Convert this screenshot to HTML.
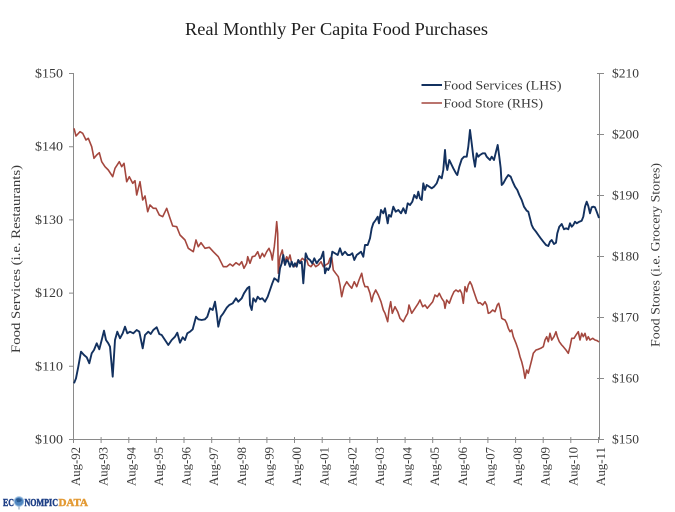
<!DOCTYPE html>
<html><head><meta charset="utf-8"><style>
html,body{margin:0;padding:0;background:#fff;}
svg{display:block;}
text{font-family:"Liberation Serif",serif;fill:#3a3a3a;}
</style></head><body>
<svg width="675" height="512" viewBox="0 0 675 512" xmlns="http://www.w3.org/2000/svg">
<rect width="675" height="512" fill="#fff"/>
<text x="336.5" y="35" font-size="17.5" text-anchor="middle" textLength="303" lengthAdjust="spacingAndGlyphs" style="fill:#1e1e1e">Real Monthly Per Capita Food Purchases</text>

<g stroke="#8a8a8a" stroke-width="1" fill="none">
<line x1="73.5" y1="73" x2="73.5" y2="439.5"/>
<line x1="599.5" y1="73" x2="599.5" y2="439.5"/>
<line x1="73.5" y1="439.5" x2="599.5" y2="439.5"/>
<path d="M69 73.5H74 M69 146.7H74 M69 219.9H74 M69 293.1H74 M69 366.3H74 M69 439.5H74"/>
<path d="M597 73.5H604 M597 134.5H604 M597 195.5H604 M597 256.5H604 M597 317.5H604 M597 378.5H604 M597 439.5H604"/>
<path d="M73.5 437V443 M101.1 437V443 M128.8 437V443 M156.4 437V443 M184 437V443 M211.7 437V443 M239.3 437V443 M266.9 437V443 M294.5 437V443 M322.2 437V443 M349.8 437V443 M377.4 437V443 M405.1 437V443 M432.7 437V443 M460.3 437V443 M487.9 437V443 M515.6 437V443 M543.2 437V443 M570.8 437V443 M598.5 437V443"/>
</g>

<g font-size="13" text-anchor="end">
<text x="63" y="77.5" textLength="28" lengthAdjust="spacingAndGlyphs">$150</text>
<text x="63" y="150.7" textLength="28" lengthAdjust="spacingAndGlyphs">$140</text>
<text x="63" y="223.9" textLength="28" lengthAdjust="spacingAndGlyphs">$130</text>
<text x="63" y="297.1" textLength="28" lengthAdjust="spacingAndGlyphs">$120</text>
<text x="63" y="370.3" textLength="28" lengthAdjust="spacingAndGlyphs">$110</text>
<text x="63" y="443.5" textLength="28" lengthAdjust="spacingAndGlyphs">$100</text>
</g>
<g font-size="13">
<text x="612" y="77.5" textLength="27" lengthAdjust="spacingAndGlyphs">$210</text>
<text x="612" y="138.5" textLength="27" lengthAdjust="spacingAndGlyphs">$200</text>
<text x="612" y="199.5" textLength="27" lengthAdjust="spacingAndGlyphs">$190</text>
<text x="612" y="260.5" textLength="27" lengthAdjust="spacingAndGlyphs">$180</text>
<text x="612" y="321.5" textLength="27" lengthAdjust="spacingAndGlyphs">$170</text>
<text x="612" y="382.5" textLength="27" lengthAdjust="spacingAndGlyphs">$160</text>
<text x="612" y="443.5" textLength="27" lengthAdjust="spacingAndGlyphs">$150</text>
</g>

<text transform="translate(20,259) rotate(-90)" font-size="13" text-anchor="middle" textLength="188" lengthAdjust="spacingAndGlyphs">Food Services (i.e. Restaurants)</text>
<text transform="translate(659.5,255) rotate(-90)" font-size="13" text-anchor="middle" textLength="184" lengthAdjust="spacingAndGlyphs">Food Stores (i.e. Grocery Stores)</text>

<g font-size="13" text-anchor="end">
<text transform="translate(80,447) rotate(-90)" textLength="39" lengthAdjust="spacingAndGlyphs">Aug-92</text>
<text transform="translate(107.6,447) rotate(-90)" textLength="39" lengthAdjust="spacingAndGlyphs">Aug-93</text>
<text transform="translate(135.3,447) rotate(-90)" textLength="39" lengthAdjust="spacingAndGlyphs">Aug-94</text>
<text transform="translate(162.9,447) rotate(-90)" textLength="39" lengthAdjust="spacingAndGlyphs">Aug-95</text>
<text transform="translate(190.5,447) rotate(-90)" textLength="39" lengthAdjust="spacingAndGlyphs">Aug-96</text>
<text transform="translate(218.2,447) rotate(-90)" textLength="39" lengthAdjust="spacingAndGlyphs">Aug-97</text>
<text transform="translate(245.8,447) rotate(-90)" textLength="39" lengthAdjust="spacingAndGlyphs">Aug-98</text>
<text transform="translate(273.4,447) rotate(-90)" textLength="39" lengthAdjust="spacingAndGlyphs">Aug-99</text>
<text transform="translate(301,447) rotate(-90)" textLength="39" lengthAdjust="spacingAndGlyphs">Aug-00</text>
<text transform="translate(328.7,447) rotate(-90)" textLength="39" lengthAdjust="spacingAndGlyphs">Aug-01</text>
<text transform="translate(356.3,447) rotate(-90)" textLength="39" lengthAdjust="spacingAndGlyphs">Aug-02</text>
<text transform="translate(383.9,447) rotate(-90)" textLength="39" lengthAdjust="spacingAndGlyphs">Aug-03</text>
<text transform="translate(411.6,447) rotate(-90)" textLength="39" lengthAdjust="spacingAndGlyphs">Aug-04</text>
<text transform="translate(439.2,447) rotate(-90)" textLength="39" lengthAdjust="spacingAndGlyphs">Aug-05</text>
<text transform="translate(466.8,447) rotate(-90)" textLength="39" lengthAdjust="spacingAndGlyphs">Aug-06</text>
<text transform="translate(494.4,447) rotate(-90)" textLength="39" lengthAdjust="spacingAndGlyphs">Aug-07</text>
<text transform="translate(522.1,447) rotate(-90)" textLength="39" lengthAdjust="spacingAndGlyphs">Aug-08</text>
<text transform="translate(549.7,447) rotate(-90)" textLength="39" lengthAdjust="spacingAndGlyphs">Aug-09</text>
<text transform="translate(577.3,447) rotate(-90)" textLength="39" lengthAdjust="spacingAndGlyphs">Aug-10</text>
<text transform="translate(605,447) rotate(-90)" textLength="39" lengthAdjust="spacingAndGlyphs">Aug-11</text>
</g>

<!-- Food Store (RHS) -->
<polyline fill="none" stroke="#a4473e" stroke-width="1.6" stroke-linejoin="round" points="74,128.3 76,136 80,131.7 82.7,133.3 86,140 88.3,138.3 91.7,146.7 94,158.3 96.7,155 99.3,152.7 101.7,161.7 105,166.7 108.3,170 112.7,176.7 115,168.3 119.3,161.7 121.7,166.7 124,163.3 126.7,181.7 129.3,176.7 132.7,183.3 135,180.7 136.7,195 140,181.7 142.7,200 145,196 147.7,211.7 150,205 153.3,208.3 156,208.3 159.3,215 162.7,216.7 166.7,208.3 170,218.3 172.7,226 176.7,226.7 180,235 185,240 188.3,248.3 193.3,251.7 196,240 198.3,246.7 201,242.7 205,248.3 209.3,247.3 213.3,251.7 218.3,256.7 223.3,266.7 226.7,266.7 230,264 232.7,266 236,262.7 239.3,265 241.7,261.7 244,268.3 246.7,263.3 247.7,256.7 250,263.3 252.3,256.7 255,256 257.7,251.7 260,258.3 262.3,253.3 264.3,256.7 266.7,251.7 269,248.3 271,253.3 272.3,260 274.3,246.7 275.7,233.3 276.7,221.7 277.7,233.3 278.3,273.3 280,256.7 282.3,250 284.3,263.3 286.7,256.7 288.3,260 290,255 291.7,263.3 294.3,266.7 296.7,263.3 298.3,260 300,261.7 302.3,258.3 304.3,260 306.7,260 308.3,265 311,266.7 313.3,263.3 315.7,266.7 318.3,265 321,261.7 323.3,266.7 325.7,265 328.3,263.3 330,258.3 331.7,256.7 333.3,270 335.7,273.3 338.3,276.7 340,285 341.7,296.7 344,286.7 346.7,281.7 349,285 351.7,288.3 354.3,281.7 356.7,286.7 359,280 361.7,273.3 363.3,281.7 365,286.7 367.7,286.7 370,293.3 371.7,301.7 373.3,295 375.7,290 378.3,295 381,301.7 383.3,310 385,313.3 387.7,321.7 389,310 390.7,301.7 392.3,313.3 395,306.7 397.7,311.7 400,318.3 403.3,321.7 405.7,316.7 407.7,313.3 409,305 411.7,313.3 415,308.3 418.3,303.3 420,300 422.7,306.7 425,305 427.3,308.3 430,305 432.7,301.7 435,295 437.3,296.7 439.3,293.3 441.7,298.3 444,301.7 445,308.3 446.7,300 449.3,303.3 451.7,296.7 454,291.7 456,290 458.3,291.7 460,290 461.7,293.3 463.3,303.3 465,286.7 466.7,291.7 468.3,285 470,281.7 471.7,285 473.3,290 475,295 476.7,300 478.3,303.3 480,302.7 482.7,305 485,301.7 486.7,305 488.3,313.3 490,312.7 492.7,310 495,311.7 497.3,305 498.7,303.3 500,308.3 501.7,318.3 503.3,319.3 505,320 506.7,323.3 508.3,328.3 510,331.7 511.7,330 513.3,336.7 516,343.3 518.3,350 520,356.7 521.7,361.7 523.3,368.3 525,378.3 526.7,370 528.3,373.3 530,366.7 531.7,360 533.3,353.3 536,350 538.3,349.3 540.7,348.3 543.3,346.7 545,340 546.7,336.7 548.3,341.7 550,333.3 551.7,340 554,336.7 556,331.7 557.3,336.7 559.3,341.7 561.7,345 563.3,346.7 566,350 568.3,353.3 570,346.7 571.7,338.3 574,338.3 576,335 578.3,331.7 580,340 581.7,333.3 583.3,336.7 585,333.3 586.7,340 588.3,336.7 590,340 592.7,338.3 595,340 597.3,340.7 599,342"/>

<!-- Food Services (LHS) -->
<polyline fill="none" stroke="#13315f" stroke-width="1.9" stroke-linejoin="round" points="74,383.3 76,378.3 78.3,366.7 81,351.7 84,355 86.7,357.3 89.3,363.3 91.7,353.3 94,350 96.7,343.3 99.3,349.3 101.7,340 104,330.7 106,340 108.3,343.3 110,346.7 112.7,376.7 115,340 117.3,331.7 120,338.3 122.7,333.3 125,326.7 127.3,333.3 130,331.7 133.3,333.3 136.7,330 139.3,331.7 142.7,348.3 145,335 148.3,331.7 150.7,334 153.3,330 156.7,327.3 159.3,334 161.7,335 165,340 168.3,345 171.7,340 175,336.7 177.3,332.7 180,342.7 182.7,337.3 185,340 187.3,333.3 190,331.7 192.7,329.3 196,316.7 198.3,319.3 201.7,320 205,319.3 207.3,316.7 210,308.3 212.7,310 215,301.7 216.7,313.3 218.3,326.7 220.7,316.7 223.3,313.3 226.7,307.7 229.3,305 232.7,303.3 236,298.3 238.3,301.7 241.7,298.3 244,293.3 247.3,288.3 249.3,286.7 250,305 251.7,310 253.3,298.3 255.7,301.7 257.7,296.7 260,299.3 262.3,298.3 265,301.7 267.7,296.7 270,290 272.3,283.3 274.3,278.3 276.7,280 278.3,281.7 280,268.3 281.7,263.3 283.3,255 285,265 286.7,260 288.3,261.7 290,266.7 291.7,261.7 293.3,266.7 295,263.3 296.7,266.7 298.3,260 300,263.3 301.7,261.7 303.3,283.3 304.3,270 305.7,253.3 307.7,258.3 310,260 312.3,263.3 314.3,258.3 316.7,263.3 319,260 321,258.3 323.3,251.7 325,273.3 326.7,268.3 328.3,270 330,266.7 332.3,251.7 335,253.3 337.7,255 340,248.3 342.3,255 345,251.7 347.7,255 350,255 352.3,253.3 354.3,260 356.7,255 359,253.3 361,251.7 363.3,256.7 365,245 367.7,245 370,238.3 371.7,228.3 373.3,223.3 375.7,220 377.7,216.7 379,223.3 381,210 383.3,213.3 385,208.3 387.7,223.3 389,215 391,216.7 393.3,206.7 395.7,211.7 398.3,210 401,213.3 403.3,208.3 405.7,213.3 407.7,203.3 410,205 412.3,201.7 414.3,195 416.7,198.3 418.3,191.7 420,198.3 421.7,200 423.3,183.3 425,190 426.7,185 429.3,186.7 431.7,188.3 434,186.7 436.7,183.3 439.3,176 441.7,178.3 443.3,170 445,150 446,163.3 447.3,170 449.3,160 451.7,165 453.3,168.3 456,173.3 457.3,175 459.3,166.7 461.7,159.3 464,156.7 466.7,156.7 468.3,146.7 470,130 471.7,143.3 473.3,156.7 475,166.7 476.7,153.3 478.3,156.7 480,155 482.7,153.3 485,153.3 486.7,156.7 488.3,158.3 490,160 491.7,156.7 494,160 496,151.7 497.7,145 499.3,156.7 500.7,168.3 501.7,185 503.3,183.3 506,178.3 508.3,175 510.7,176.7 512.7,181.7 515,186.7 517.3,190 519.3,195 521.7,200 524,206.7 526.7,210.7 528.3,211.7 530,218.3 531.7,225 533.3,228.3 536,231.7 538.3,235 540.7,238.3 543.3,241.7 546,245 548.3,246 550,241.7 551.7,240 554,244 556,242.7 557.3,233.3 559.3,226.7 561.7,224 564,229.3 566,228.3 568.3,229.3 570,223.3 571.7,226.7 573.3,225 575,221.7 576.7,223.3 579.3,221.7 581.7,220.7 583.3,216.7 585,206.7 586.7,201.7 588.3,206 590,213.3 591.7,207.3 593.3,206.7 595,207.3 596.7,211.7 598.3,216 599,218"/>

<!-- Legend -->
<line x1="421.5" y1="85" x2="442" y2="85" stroke="#13315f" stroke-width="2"/>
<line x1="421.5" y1="103" x2="442" y2="103" stroke="#a4473e" stroke-width="1.6"/>
<text x="443.5" y="89.5" font-size="13" textLength="118" lengthAdjust="spacingAndGlyphs">Food Services (LHS)</text>
<text x="443.5" y="107.5" font-size="13" textLength="99.5" lengthAdjust="spacingAndGlyphs">Food Store (RHS)</text>

<!-- Logo -->
<g font-family="'Liberation Sans',sans-serif" font-weight="bold" font-size="10.5">
<text x="3" y="506" textLength="11" lengthAdjust="spacingAndGlyphs" style="fill:#1d3f86;stroke:#1d3f86;stroke-width:0.5">EC</text>
<circle cx="19" cy="501.5" r="4.8" fill="#4f86c0" stroke="#9fc0e0" stroke-width="1"/>
<path d="M16 499 q3 -2 6 1 q-2 3 -5 2 z" fill="#2a5a92"/>
<line x1="19" y1="506.5" x2="19" y2="509.5" stroke="#7a95b3" stroke-width="1"/>
<text x="24.5" y="506" textLength="33.5" lengthAdjust="spacingAndGlyphs" style="fill:#1d3f86;stroke:#1d3f86;stroke-width:0.5">NOMPIC</text>
<text x="58.5" y="506" textLength="29.5" lengthAdjust="spacingAndGlyphs" style="fill:#e39a34;stroke:#e39a34;stroke-width:0.5">DATA</text>
</g>
</svg>
</body></html>
